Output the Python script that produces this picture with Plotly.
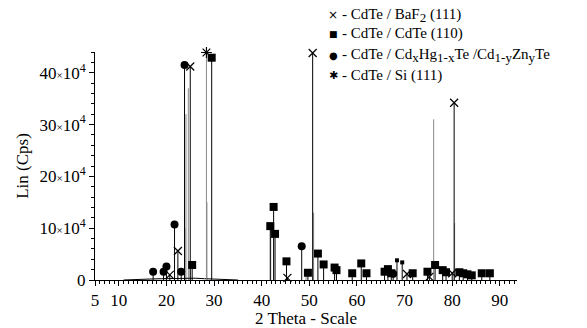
import plotly.graph_objects as go

# ---- data (2-theta in degrees, intensity in counts) ----
baf2_x = [20.7, 22.4, 25.0, 45.4, 50.7, 70.5, 75.2, 80.0, 80.4]
baf2_y = [1.0e4, 5.6e4, 41.2e4, 0.4e4, 43.8e4, 1.15e4, 0.6e4, 1.3e4, 34.2e4]

cdte_x = [25.4, 29.5, 41.8, 42.5, 42.8, 45.2, 49.7, 51.8, 53.0, 55.3, 55.7, 59.0, 60.9,
          62.0, 65.8, 66.5, 67.2, 71.7, 74.8, 76.4, 78.0, 78.7, 81.5, 82.3, 83.2, 84.1,
          86.2, 87.9]
cdte_y = [2.9e4, 42.9e4, 10.4e4, 14.1e4, 8.9e4, 3.6e4, 1.4e4, 5.1e4, 3.0e4, 2.4e4, 1.9e4,
          1.3e4, 3.2e4, 1.3e4, 1.6e4, 2.1e4, 1.3e4, 1.3e4, 1.6e4, 2.9e4, 1.9e4, 1.5e4,
          1.5e4, 1.3e4, 1.1e4, 0.9e4, 1.3e4, 1.3e4]

cdte_small_x = [68.4, 69.5]
cdte_small_y = [3.8e4, 3.4e4]

mct_x = [17.2, 19.4, 20.0, 21.7, 23.1, 23.8, 48.4, 67.6]
mct_y = [1.6e4, 1.6e4, 2.6e4, 10.7e4, 1.6e4, 41.5e4, 6.5e4, 1.2e4]

si_x = [28.4]
si_y = [43.9e4]

grey_peak_x = [23.9, 24.1, 24.6, 25.0, 28.5, 41.9, 49.3, 50.9, 76.1, 80.5]
grey_peak_y = [10.0e4, 32.0e4, 37.0e4, 3.0e4, 15.0e4, 10.0e4, 2.0e4, 13.0e4, 31.0e4, 11.0e4]

base_x = [11.0, 13.0, 15.0, 17.0, 19.0, 21.0, 23.0, 26.0, 28.0, 31.0, 35.0]
base_y = [0.0, 0.1e4, 0.15e4, 0.2e4, 0.25e4, 0.3e4, 0.4e4, 0.35e4, 0.25e4, 0.1e4, 0.0]

SUB = "<sub><span style='font-size:13px'>{}</span></sub>"
legend_symbols = ["×", "■", "●", "✱"]
legend_names = [
    "- CdTe / BaF" + SUB.format("2") + " (111)",
    "- CdTe / CdTe (110)",
    "- CdTe / Cd" + SUB.format("x") + "Hg" + SUB.format("1-x") + "Te /Cd"
    + SUB.format("1-y") + "Zn" + SUB.format("y") + "Te",
    "- CdTe / Si (111)",
]

x_tickvals = [5, 10, 20, 30, 40, 50, 60, 70, 80, 90]
y_tickvals = [0, 10e4, 20e4, 30e4, 40e4]
y_ticktext = ["0"] + [f"{v}<span style='font-size:11px'>×</span>10<sup>4</sup>" for v in (10, 20, 30, 40)]

FONT = "Liberation Serif, Times New Roman, serif"

fig = go.Figure()

# grey spectrum peaks
gx, gy = [], []
for p, h in zip(grey_peak_x, grey_peak_y):
    gx += [p, p, None]
    gy += [0, h, None]
fig.add_trace(go.Scatter(x=gx, y=gy, mode="lines", line=dict(color="#8a8a8a", width=1),
                         showlegend=False, hoverinfo="skip"))
fig.add_trace(go.Scatter(x=base_x, y=base_y, mode="lines", line=dict(color="black", width=1),
                         showlegend=False, hoverinfo="skip"))


def stems(y, color="black"):
    return dict(type="data", symmetric=False, array=[0] * len(y), arrayminus=y,
                width=0, thickness=1, color=color)


m_baf2 = dict(symbol="x-thin-open", size=8, color="black", line=dict(color="black", width=1.2))
m_cdte = dict(symbol="square", size=8, color="black")
m_mct = dict(symbol="circle", size=8, color="black")
m_si = dict(symbol="asterisk-open", size=9, color="black", line=dict(color="black", width=1.2))

fig.add_trace(go.Scatter(x=baf2_x, y=baf2_y, mode="markers", error_y=stems(baf2_y),
                         marker=m_baf2, name="CdTe / BaF2 (111)"))
fig.add_trace(go.Scatter(x=cdte_x, y=cdte_y, mode="markers", error_y=stems(cdte_y),
                         marker=m_cdte, name="CdTe / CdTe (110)"))
fig.add_trace(go.Scatter(x=cdte_small_x, y=cdte_small_y, mode="markers",
                         error_y=stems(cdte_small_y),
                         marker=dict(symbol="square", size=4, color="black"),
                         name="CdTe / CdTe (110) minor"))
fig.add_trace(go.Scatter(x=mct_x, y=mct_y, mode="markers", error_y=stems(mct_y),
                         marker=m_mct, name="CdTe / CdHgTe / CdZnTe"))
fig.add_trace(go.Scatter(x=si_x, y=si_y, mode="markers", error_y=stems(si_y, "#8a8a8a"),
                         marker=m_si, name="CdTe / Si (111)"))

fig.update_traces(cliponaxis=False)

# key drawn as text rows (symbol + label) in the top right
PLOT_L, PLOT_W, PLOT_B, PLOT_H = 95, 422, 280, 228
row_py = [15, 34, 55, 75]
sym_sizes = [12, 9, 10, 11]
annotations = []
for sym, name, py, ss in zip(legend_symbols, legend_names, row_py, sym_sizes):
    yp = (PLOT_B - py) / PLOT_H
    annotations.append(dict(xref="paper", yref="paper", x=(333 - PLOT_L) / PLOT_W, y=yp,
                            xanchor="center", yanchor="middle", showarrow=False, text=sym,
                            font=dict(family="DejaVu Sans", size=ss, color="black")))
    annotations.append(dict(xref="paper", yref="paper", x=(340 - PLOT_L) / PLOT_W, y=yp,
                            xanchor="left", yanchor="middle", showarrow=False, text=name,
                            font=dict(family=FONT, size=15, color="black")))

fig.update_layout(
    width=587, height=328,
    margin=dict(l=95, r=70, t=52, b=48, autoexpand=False),
    paper_bgcolor="white", plot_bgcolor="white",
    font=dict(family=FONT, color="black", size=16),
    showlegend=False,
    annotations=annotations,
    xaxis=dict(range=[5, 93.6], tickvals=x_tickvals, ticks="outside", ticklen=5,
               tickwidth=1, tickcolor="black", showline=True, linecolor="black",
               linewidth=1, showgrid=False, zeroline=False,
               minor=dict(dtick=1, tick0=0, ticks="outside", ticklen=3, tickcolor="black",
                          showgrid=False),
               title=dict(text="2 Theta - Scale", font=dict(size=17), standoff=8),
               tickfont=dict(size=17)),
    yaxis=dict(range=[0, 44e4], tickvals=y_tickvals, ticktext=y_ticktext, ticks="outside",
               ticklen=5, tickwidth=1, tickcolor="black", showline=True, linecolor="black",
               linewidth=1, showgrid=False, zeroline=False,
               minor=dict(dtick=2e4, tick0=0, ticks="outside", ticklen=3, tickcolor="black",
                          showgrid=False),
               title=dict(text="Lin (Cps)", font=dict(size=17), standoff=6),
               tickfont=dict(size=17)),
)

fig.write_html("out.html")
